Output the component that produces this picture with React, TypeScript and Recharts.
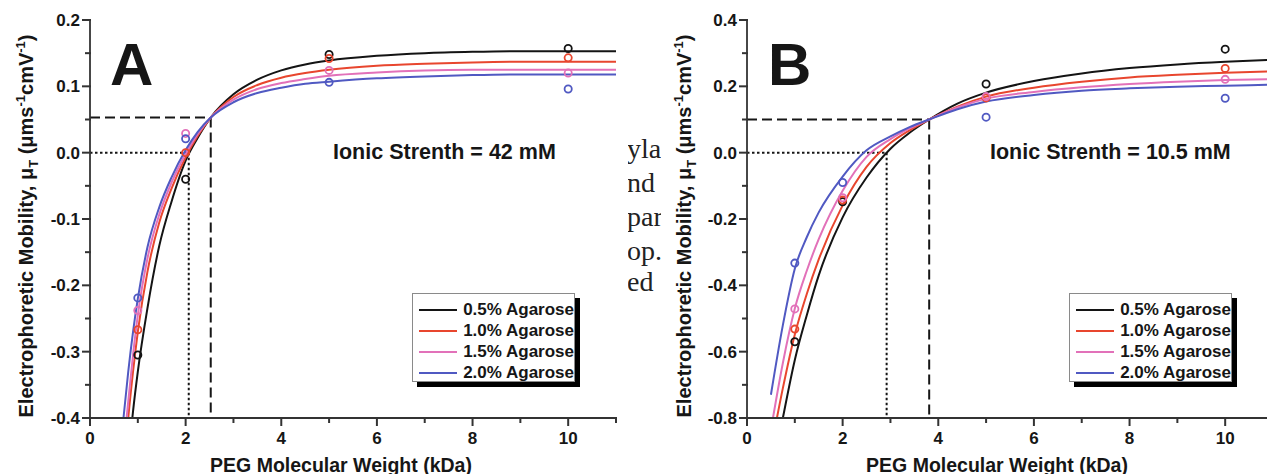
import React from 'react';
import { ComposedChart, Line, Scatter, XAxis, YAxis, ReferenceLine, Legend } from 'recharts';

const FONT = '"Liberation Sans", Arial, Helvetica, sans-serif';
const AXIS = '#333333';
const INK = '#161616';

const seriesNames = ['0.5% Agarose', '1.0% Agarose', '1.5% Agarose', '2.0% Agarose'];
const seriesColors = ['#141414', '#e8462e', '#e271b9', '#5059c2'];

// measured PEG sizes (kDa)
const pegWeights = [1, 2, 5, 10];

// panel A, ionic strength 42 mM: measured mobilities
const pointsA05 = [-0.305, -0.04, 0.148, 0.157];
const pointsA10 = [-0.267, 0.0, 0.142, 0.143];
const pointsA15 = [-0.238, 0.029, 0.124, 0.12];
const pointsA20 = [-0.219, 0.021, 0.106, 0.096];

// panel A fitted curves
const fitXA = [0.6, 0.7, 0.8, 0.9, 1.0, 1.2, 1.45, 1.7, 2.0, 2.25, 2.525, 3, 3.5, 4, 4.5, 5, 6, 7, 8, 9, 10, 11];
const fitA05 = [-0.66, -0.56, -0.465, -0.39, -0.33, -0.235, -0.14, -0.075, -0.012, 0.022, 0.053, 0.088, 0.11, 0.124, 0.133, 0.139, 0.146, 0.15, 0.152, 0.153, 0.153, 0.153];
const fitA10 = [-0.58, -0.485, -0.4, -0.33, -0.27, -0.18, -0.105, -0.055, -0.007, 0.025, 0.053, 0.084, 0.102, 0.113, 0.12, 0.125, 0.131, 0.134, 0.136, 0.137, 0.137, 0.137];
const fitA15 = [-0.54, -0.45, -0.375, -0.305, -0.245, -0.16, -0.093, -0.046, -0.002, 0.028, 0.053, 0.08, 0.096, 0.105, 0.111, 0.116, 0.121, 0.124, 0.125, 0.125, 0.125, 0.125];
const fitA20 = [-0.48, -0.4, -0.33, -0.27, -0.22, -0.143, -0.082, -0.038, 0.004, 0.031, 0.053, 0.076, 0.09, 0.098, 0.104, 0.107, 0.112, 0.115, 0.117, 0.118, 0.118, 0.118];

// panel B, ionic strength 10.5 mM
const pointsB05 = [-0.57, -0.148, 0.207, 0.312];
const pointsB10 = [-0.532, -0.143, 0.165, 0.254];
const pointsB15 = [-0.471, -0.136, 0.169, 0.221];
const pointsB20 = [-0.333, -0.09, 0.107, 0.164];

const fitXB = [0.5, 0.75, 1.0, 1.25, 1.5, 2.0, 2.5, 3.0, 3.4, 3.81, 4.4, 5, 6, 7, 8, 9, 10, 11];
const fitB05 = [-0.99, -0.8, -0.625, -0.49, -0.37, -0.195, -0.075, 0.012, 0.06, 0.1, 0.148, 0.181, 0.216, 0.239, 0.255, 0.266, 0.274, 0.28];
const fitB10 = [-0.895, -0.71, -0.548, -0.426, -0.322, -0.159, -0.043, 0.029, 0.0675, 0.1, 0.139, 0.169, 0.196, 0.214, 0.227, 0.235, 0.241, 0.245];
const fitB15 = [-0.836, -0.634, -0.47, -0.356, -0.261, -0.115, -0.0125, 0.041, 0.073, 0.1, 0.136, 0.163, 0.183, 0.197, 0.207, 0.214, 0.219, 0.222];
const fitB20 = [-0.73, -0.52, -0.35, -0.255, -0.18, -0.072, 0.007, 0.049, 0.077, 0.1, 0.131, 0.154, 0.174, 0.187, 0.194, 0.199, 0.202, 0.205];

// guide lines: common crossing point and zero crossing
const crossA = { x: 2.525, y: 0.053 };
const zeroXA = 2.065;
const crossB = { x: 3.81, y: 0.1 };
const zeroXB = 2.92;

// axes
const xDomain = [0, 11];
const xTicks = [0, 1, 2, 3, 4, 5, 6, 7, 8, 9, 10, 11];
const xMajors = [0, 2, 4, 6, 8, 10];
const yDomainA = [-0.4, 0.2];
const yTicksA = [-0.4, -0.35, -0.3, -0.25, -0.2, -0.15, -0.1, -0.05, 0, 0.05, 0.1, 0.15, 0.2];
const yMajorsA = [-0.4, -0.3, -0.2, -0.1, 0, 0.1, 0.2];
const yDomainB = [-0.8, 0.4];
const yTicksB = [-0.8, -0.7, -0.6, -0.5, -0.4, -0.3, -0.2, -0.1, 0, 0.1, 0.2, 0.3, 0.4];
const yMajorsB = [-0.8, -0.6, -0.4, -0.2, 0, 0.2, 0.4];

const toPts = (xs: number[], ys: number[]) => xs.map((x, i) => ({ x, y: ys[i] }));
const isMajor = (v: number, majors: number[]) => majors.some((m) => Math.abs(m - v) < 1e-6);

const tickText = { fontFamily: FONT, fontWeight: 700, fontSize: 17, fill: INK };
const TICK_W = 2;

const bottomTick = (props: any) => {
  const { x, y, payload } = props;
  const major = isMajor(payload.value, xMajors);
  return (
    <g>
      <line x1={x} y1={y - 1} x2={x} y2={y + (major ? 8 : 5)} stroke={AXIS} strokeWidth={TICK_W} />
      {major && (
        <text x={x} y={y + 25.5} textAnchor="middle" {...tickText}>
          {payload.value}
        </text>
      )}
    </g>
  );
};

const topTick = (props: any) => {
  const { x, y, payload } = props;
  const major = isMajor(payload.value, xMajors);
  return <line x1={x} y1={y} x2={x} y2={y + (major ? 8 : 5)} stroke={AXIS} strokeWidth={TICK_W} />;
};

const leftTick = (majors: number[]) => (props: any) => {
  const { x, y, payload } = props;
  const major = isMajor(payload.value, majors);
  return (
    <g>
      <line x1={x - (major ? 8 : 5)} y1={y} x2={x + 1} y2={y} stroke={AXIS} strokeWidth={TICK_W} />
      {major && (
        <text x={x - 10} y={y + 6} textAnchor="end" {...tickText}>
          {Number(payload.value).toFixed(1)}
        </text>
      )}
    </g>
  );
};

const rightTick = (majors: number[]) => (props: any) => {
  const { x, y, payload } = props;
  const major = isMajor(payload.value, majors);
  return <line x1={x - (major ? 8 : 5)} y1={y} x2={x + 3} y2={y} stroke={AXIS} strokeWidth={TICK_W} />;
};

const ring = (color: string) => (props: any) => (
  <circle cx={props.cx} cy={props.cy} r={3.6} fill="none" stroke={color} strokeWidth={1.8} />
);

const LegendBox = () => (
  <div
    style={{
      width: 163,
      height: 89,
      boxSizing: 'border-box',
      border: '1px solid #8a8a8a',
      background: '#fff',
      boxShadow: '5px 5px 0 #000',
      padding: '5px 0 0 6px',
      fontFamily: FONT,
      fontWeight: 700,
      fontSize: 17,
      color: INK,
    }}
  >
    {seriesNames.map((name, i) => (
      <div key={name} style={{ display: 'flex', alignItems: 'center', height: 21, whiteSpace: 'nowrap' }}>
        <span style={{ display: 'inline-block', width: 39, height: 2, background: seriesColors[i], marginRight: 6 }} />
        <span style={{ lineHeight: '21px' }}>{name}</span>
      </div>
    ))}
  </div>
);

interface PanelProps {
  left: number;
  fitX: number[];
  fits: number[][];
  points: number[][];
  yDomain: number[];
  yTicks: number[];
  yMajors: number[];
  cross: { x: number; y: number };
  zeroX: number;
}

const Panel: React.FC<PanelProps> = ({ left, fitX, fits, points, yDomain, yTicks, yMajors, cross, zeroX }) => (
  <div style={{ position: 'absolute', left, top: 0 }}>
    <ComposedChart width={640} height={474} margin={{ top: 20, right: 24, bottom: 26, left: 40 }}>
      <XAxis
        xAxisId="top"
        orientation="top"
        type="number"
        dataKey="x"
        domain={xDomain}
        ticks={xTicks}
        interval={0}
        height={0}
        tickSize={0}
        tickMargin={0}
        tickLine={false}
        tick={topTick}
        axisLine={{ stroke: AXIS, strokeWidth: 1.8 }}
        allowDataOverflow
      />
      <XAxis
        type="number"
        dataKey="x"
        domain={xDomain}
        ticks={xTicks}
        interval={0}
        height={30}
        tickSize={0}
        tickMargin={0}
        tickLine={false}
        tick={bottomTick}
        axisLine={{ stroke: AXIS, strokeWidth: 1.8 }}
        allowDataOverflow
      />
      <YAxis
        type="number"
        dataKey="y"
        domain={yDomain}
        ticks={yTicks}
        interval={0}
        width={50}
        tickSize={0}
        tickMargin={0}
        tickLine={false}
        tick={leftTick(yMajors)}
        axisLine={{ stroke: AXIS, strokeWidth: 1.8 }}
        allowDataOverflow
      />
      <YAxis
        yAxisId="right"
        orientation="right"
        type="number"
        dataKey="y"
        domain={yDomain}
        ticks={yTicks}
        interval={0}
        width={0}
        tickSize={0}
        tickMargin={0}
        tickLine={false}
        tick={rightTick(yMajors)}
        axisLine={{ stroke: AXIS, strokeWidth: 1.8 }}
        allowDataOverflow
      />
      <ReferenceLine
        segment={[{ x: 0, y: cross.y }, { x: cross.x, y: cross.y }]}
        stroke={INK}
        strokeWidth={2}
        strokeDasharray="10 5"
      />
      <ReferenceLine
        segment={[{ x: cross.x, y: cross.y }, { x: cross.x, y: yDomain[0] }]}
        stroke={INK}
        strokeWidth={2}
        strokeDasharray="10 5"
      />
      <ReferenceLine
        segment={[{ x: 0, y: 0 }, { x: zeroX, y: 0 }]}
        stroke={INK}
        strokeWidth={2}
        strokeDasharray="2.5 2.5"
      />
      <ReferenceLine
        segment={[{ x: zeroX, y: 0 }, { x: zeroX, y: yDomain[0] }]}
        stroke={INK}
        strokeWidth={2}
        strokeDasharray="2.5 2.5"
      />
      {fits.map((ys, i) => (
        <Line
          key={`fit-${i}`}
          data={toPts(fitX, ys)}
          dataKey="y"
          type="monotone"
          stroke={seriesColors[i]}
          strokeWidth={2}
          dot={false}
          activeDot={false}
          legendType="none"
          isAnimationActive={false}
        />
      ))}
      {points.map((ys, i) => (
        <Scatter
          key={`pts-${i}`}
          data={toPts(pegWeights, ys)}
          shape={ring(seriesColors[i])}
          legendType="none"
          isAnimationActive={false}
        />
      ))}
      <Legend
        layout="vertical"
        align="center"
        verticalAlign="middle"
        content={() => <LegendBox />}
        wrapperStyle={{ left: 412, top: 293, width: 163, height: 89 }}
      />
    </ComposedChart>
  </div>
);

const YTitle: React.FC<{ x: number; y: number }> = ({ x, y }) => (
  <text
    x={x}
    y={y}
    transform={`rotate(-90 ${x} ${y})`}
    textAnchor="middle"
    fontFamily={FONT}
    fontWeight={700}
    fontSize={20}
    fill={INK}
  >
    Electrophoretic Mobility, μ
    <tspan fontSize={13} dy={5}>T</tspan>
    <tspan dy={-5}> (μms</tspan>
    <tspan fontSize={13} dy={-8}>-1</tspan>
    <tspan dy={8}>cmV</tspan>
    <tspan fontSize={13} dy={-8}>-1</tspan>
    <tspan dy={8}>)</tspan>
  </text>
);

const textFragments = ['yla', 'nd', 'par', 'op.', 'ed'];
const fragmentBaselines = [158, 192, 226, 260, 291];

export default function App() {
  return (
    <div style={{ position: 'absolute', left: 0, top: 0, width: 1267, height: 474, overflow: 'hidden', background: '#fff' }}>
      <Panel
        left={0}
        fitX={fitXA}
        fits={[fitA05, fitA10, fitA15, fitA20]}
        points={[pointsA05, pointsA10, pointsA15, pointsA20]}
        yDomain={yDomainA}
        yTicks={yTicksA}
        yMajors={yMajorsA}
        cross={crossA}
        zeroX={zeroXA}
      />
      <Panel
        left={657}
        fitX={fitXB}
        fits={[fitB05, fitB10, fitB15, fitB20]}
        points={[pointsB05, pointsB10, pointsB15, pointsB20]}
        yDomain={yDomainB}
        yTicks={yTicksB}
        yMajors={yMajorsB}
        cross={crossB}
        zeroX={zeroXB}
      />
      <svg width={1267} height={474} style={{ position: 'absolute', left: 0, top: 0, pointerEvents: 'none' }}>
        <defs>
          <clipPath id="fragClip">
            <rect x={628} y={120} width={33} height={190} />
          </clipPath>
        </defs>
        <g clipPath="url(#fragClip)">
          {textFragments.map((t, i) => (
            <text key={t} x={627} y={fragmentBaselines[i]} fontFamily='"Liberation Serif", "Times New Roman", serif' fontSize={28} fill="#222">
              {t}
            </text>
          ))}
        </g>
        <g fontFamily={FONT} fontWeight={700} fill={INK}>
          <text x={110} y={85} fontSize={60}>A</text>
          <text x={768} y={85} fontSize={60}>B</text>
          <text x={333} y={159} fontSize={21.5}>Ionic Strenth = 42 mM</text>
          <text x={990} y={158.5} fontSize={21.5}>Ionic Strenth = 10.5 mM</text>
          <text x={341} y={471.5} fontSize={19.5} textAnchor="middle">PEG Molecular Weight (kDa)</text>
          <text x={997} y={471.5} fontSize={19.5} textAnchor="middle">PEG Molecular Weight (kDa)</text>
        </g>
        <YTitle x={33} y={226} />
        <YTitle x={691} y={226} />
      </svg>
    </div>
  );
}
